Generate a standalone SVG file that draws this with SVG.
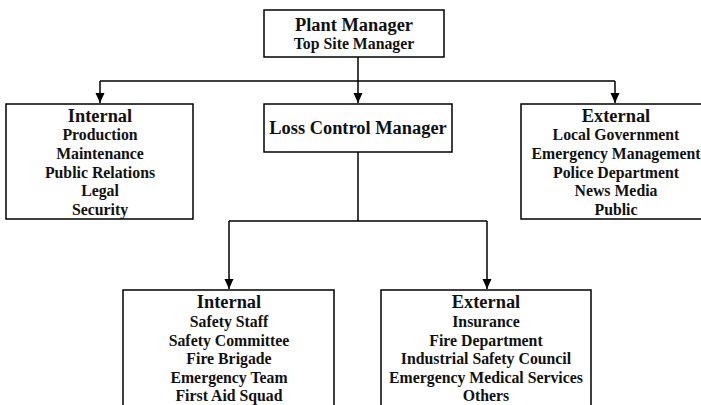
<svg xmlns="http://www.w3.org/2000/svg" width="701" height="405" viewBox="0 0 701 405">
<defs>
<marker id="arr" viewBox="0 0 10 10" refX="10" refY="5" markerWidth="10" markerHeight="10" markerUnits="userSpaceOnUse" orient="auto">
<path d="M0,0.5 L10,5 L0,9.5 Z" fill="#000"/>
</marker>
</defs>
<style>
rect{fill:#fff;stroke:#000;stroke-width:1.5}
text{font-family:"Liberation Serif","Times New Roman",serif;font-weight:bold;text-anchor:middle;fill:#111}
.h{font-size:18.4px}
.s{font-size:15.8px}
.c{fill:none;stroke:#000;stroke-width:1.5}
</style>
<rect width="701" height="405" style="stroke:none"/>
<g id="connectors">
<path class="c" d="M358,57 V81"/>
<path class="c" d="M100,81 H615"/>
<path class="c" d="M100,81 V103" marker-end="url(#arr)"/>
<path class="c" d="M358,81 V103" marker-end="url(#arr)"/>
<path class="c" d="M615,81 V103" marker-end="url(#arr)"/>
<path class="c" d="M358,152 V221"/>
<path class="c" d="M229,221 H487"/>
<path class="c" d="M229,221 V289" marker-end="url(#arr)"/>
<path class="c" d="M487,221 V289" marker-end="url(#arr)"/>
</g>
<g id="plant-manager">
<rect x="264" y="10" width="180" height="47"/>
<text class="h" x="354" y="31">Plant Manager</text>
<text class="s" x="354" y="49">Top Site Manager</text>
</g>
<g id="internal-top">
<rect x="6" y="104" width="187" height="115"/>
<text class="h" x="100" y="122">Internal</text>
<text class="s" x="100" y="140">Production</text>
<text class="s" x="100" y="159">Maintenance</text>
<text class="s" x="100" y="177.5">Public Relations</text>
<text class="s" x="100" y="196">Legal</text>
<text class="s" x="100" y="214.5">Security</text>
</g>
<g id="loss-control-manager">
<rect x="264" y="104" width="188" height="48"/>
<text class="h" x="358" y="134">Loss Control Manager</text>
</g>
<g id="external-top">
<rect x="521" y="104" width="188" height="115"/>
<text class="h" x="616" y="122">External</text>
<text class="s" x="616" y="140">Local Government</text>
<text class="s" x="616" y="159">Emergency Management</text>
<text class="s" x="616" y="177.5">Police Department</text>
<text class="s" x="616" y="196">News Media</text>
<text class="s" x="616" y="214.5">Public</text>
</g>
<g id="internal-bottom">
<rect x="123" y="290" width="211" height="130"/>
<text class="h" x="229" y="308">Internal</text>
<text class="s" x="229" y="327">Safety Staff</text>
<text class="s" x="229" y="345.5">Safety Committee</text>
<text class="s" x="229" y="364">Fire Brigade</text>
<text class="s" x="229" y="382.5">Emergency Team</text>
<text class="s" x="229" y="401">First Aid Squad</text>
</g>
<g id="external-bottom">
<rect x="381" y="290" width="210" height="130"/>
<text class="h" x="486" y="308">External</text>
<text class="s" x="486" y="327">Insurance</text>
<text class="s" x="486" y="345.5">Fire Department</text>
<text class="s" x="486" y="364">Industrial Safety Council</text>
<text class="s" x="486" y="382.5">Emergency Medical Services</text>
<text class="s" x="486" y="401">Others</text>
</g>
</svg>
